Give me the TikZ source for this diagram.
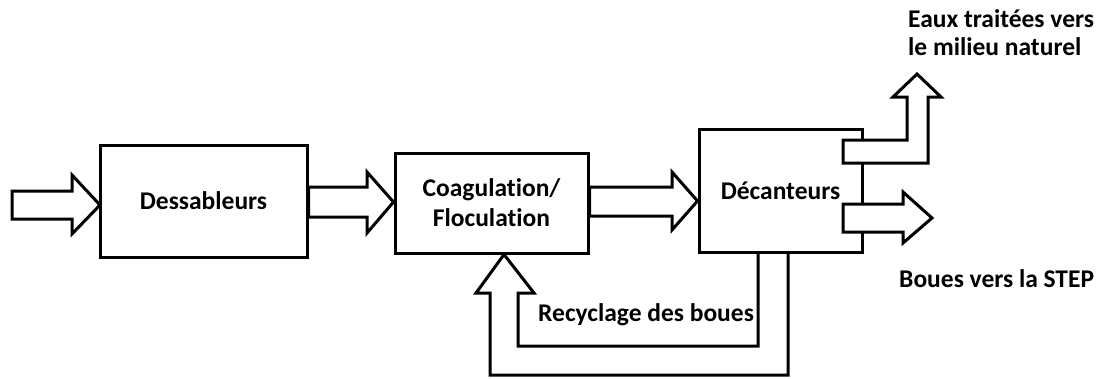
\documentclass[tikz,border=0pt]{standalone}
\usepackage{fontspec}
\setmainfont[RawFeature=-liga]{Carlito}
\begin{document}
\begin{tikzpicture}[x=1pt,y=-1pt,
  box/.style={draw,line width=3pt,rectangle,inner sep=0pt,font=\fontsize{25.5}{30}\selectfont\bfseries,align=center},
  barrow/.style={draw,line width=3pt,fill=white,line join=miter},
  lbl/.style={font=\fontsize{25.5}{28}\selectfont\bfseries,inner sep=0pt}]
\useasboundingbox (0,0) rectangle (1097,378);
% boxes
\node[box,minimum width=207pt,minimum height=112pt] (des) at (203.5,201) {Dessableurs};
\node[box,minimum width=193pt,minimum height=100pt] (coag) at (491.5,203) {Coagulation/\\Floculation};
\node[box,minimum width=163pt,minimum height=123pt] (dec) at (780.5,190.5) {D\'ecanteurs};
% arrows
\coordinate (in) at (12,205);
\draw[barrow] (in) ++(0,-14) -- (72,191) -- (72,175) -- (100,205) -- (72,234) -- (72,219) -- (12,219) -- cycle;
\draw[barrow] (des.east |- 0,187) -- (367,187) -- (367,172) -- (coag.west |- 0,202) -- (367,233) -- (367,217) -- (des.east |- 0,217) -- cycle;
\draw[barrow] (coag.east |- 0,187) -- (672,187) -- (672,172) -- (dec.west |- 0,201) -- (672,230) -- (672,216) -- (coag.east |- 0,216) -- cycle;
\coordinate (boues) at (932,218);
\draw[barrow] (843,204) -- (903,204) -- (903,192) -- (boues) -- (903,243) -- (903,232) -- (843,232) -- cycle;
\coordinate (eaux) at (917,74);
\draw[barrow] (843,163) -- (928,163) -- (928,97) -- (941,97) -- (eaux) -- (893,97) -- (907,97) -- (907,140) -- (843,140) -- cycle;
% recycle arrow
\draw[line width=3pt,line join=miter] (dec.south -| 758,0) -- (758,346) -- (518,346) -- (518,293) -- (534,293) -- (coag.south -| 504,0) -- (476,293) -- (490,293) -- (490,375) -- (788,375) -- (dec.south -| 788,0);
% labels
\node[lbl,anchor=north west,align=left] (teaux) at (908,9) {Eaux trait\'ees vers\\le milieu naturel};
\node[lbl,anchor=base west] (tboues) at (899,287) {Boues vers la STEP};
\node[lbl,anchor=base west] (trec) at (538,321) {Recyclage des boues};
\end{tikzpicture}
\end{document}
